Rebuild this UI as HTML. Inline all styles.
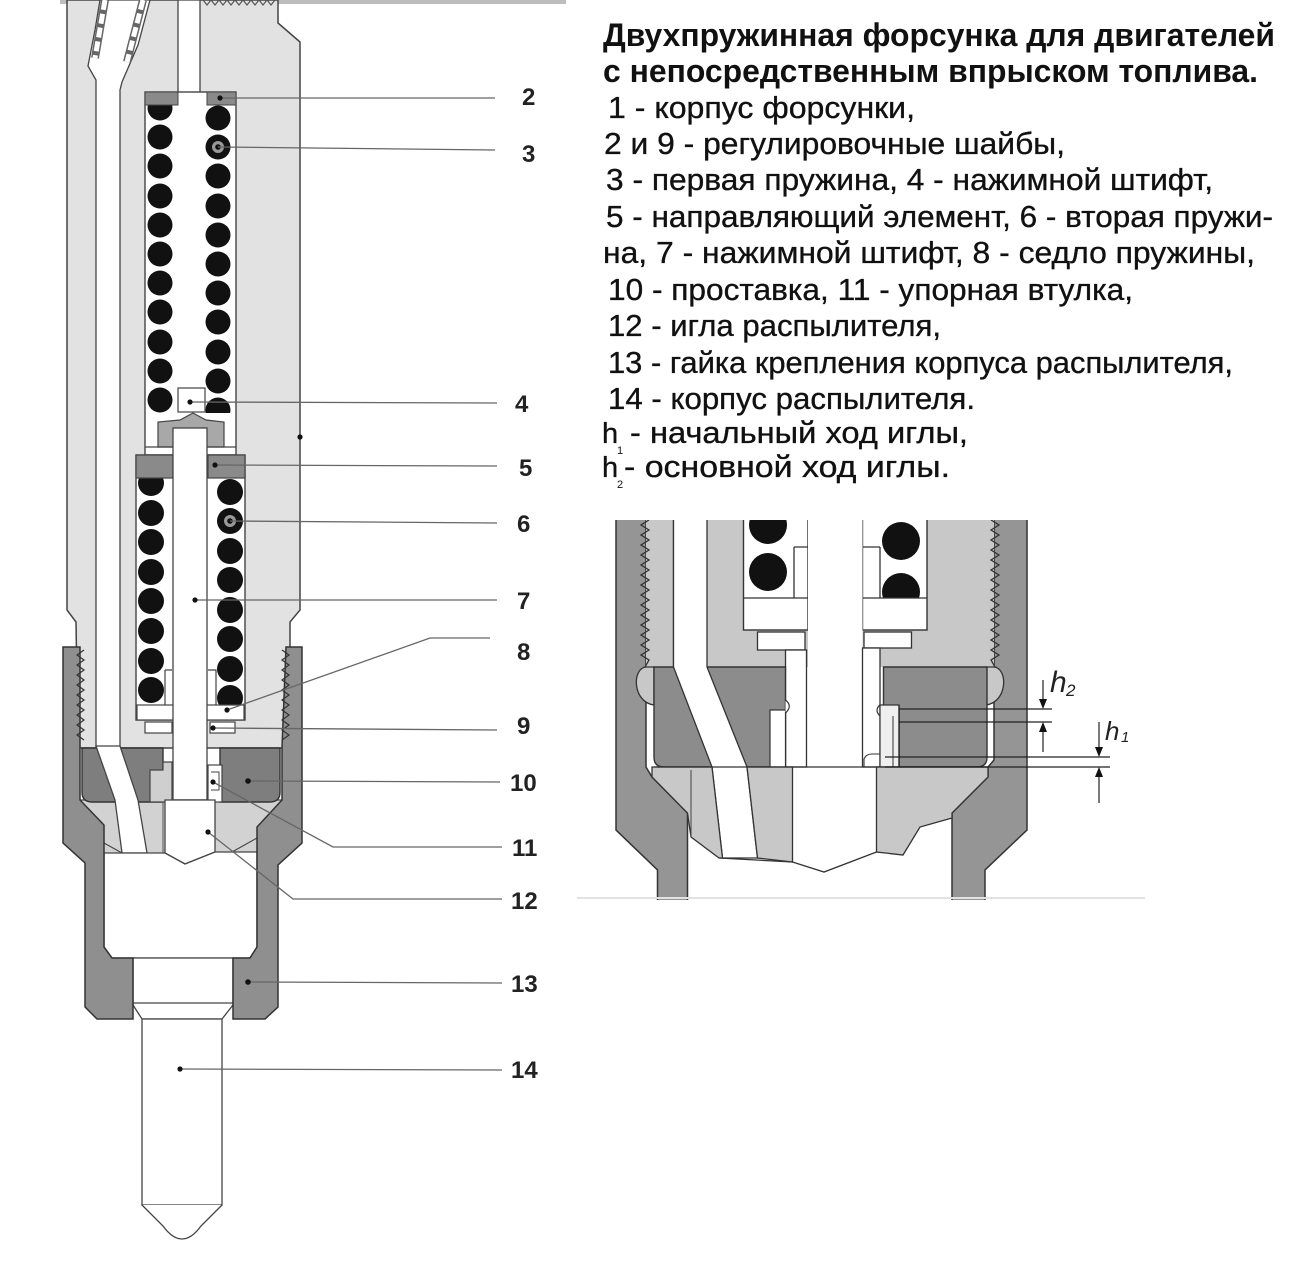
<!DOCTYPE html>
<html><head><meta charset="utf-8"><style>
html,body{margin:0;padding:0;background:#fff;}
svg{display:block;}
</style></head><body>
<svg width="1300" height="1270" viewBox="0 0 1300 1270" xmlns="http://www.w3.org/2000/svg" font-family="'Liberation Sans', Arial, sans-serif">
<rect width="1300" height="1270" fill="#fff"/>

<!-- ============ MAIN DRAWING ============ -->
<rect x="60" y="0" width="506" height="4" fill="#bdbdbd"/>
<polygon points="67,0 278,0 278,23 300,42 300,610 290,622 290,748 78,748 76,622 67,610" fill="#e2e2e2" stroke="#444" stroke-width="1.5"/>
<path d="M203,0 L207,5 L211,0 L215,5 L219,0 L223,5 L227,0 L231,5 L235,0 L239,5 L243,0 L247,5 L251,0 L255,5 L259,0 L263,5 L267,0 L271,5 L275,0" fill="none" stroke="#555" stroke-width="1.2"/>
<rect x="178" y="0" width="22" height="94" fill="#fff" stroke="#444" stroke-width="1.3"/>
<polygon points="100,0 150,0 138,45 122,82 120,90 120,748 96,748 96,80 88,66 95,30" fill="#fff" stroke="#444" stroke-width="1.3"/>
<line x1="105" y1="0" x2="95" y2="58" stroke="#666" stroke-width="8"/>
<line x1="105" y1="0" x2="95" y2="58" stroke="#fff" stroke-width="5" stroke-dasharray="10 4"/>
<line x1="143" y1="0" x2="127" y2="62" stroke="#666" stroke-width="8"/>
<line x1="143" y1="0" x2="127" y2="62" stroke="#fff" stroke-width="5" stroke-dasharray="10 4"/>

<rect x="145" y="92" width="91" height="363" fill="#fff" stroke="#444" stroke-width="1.4"/>
<g fill="#111">
<circle cx="160" cy="108" r="12.5"/><circle cx="160" cy="137" r="12.5"/><circle cx="160" cy="166" r="12.5"/><circle cx="160" cy="196" r="12.5"/><circle cx="160" cy="225" r="12.5"/><circle cx="160" cy="254" r="12.5"/><circle cx="160" cy="283" r="12.5"/><circle cx="160" cy="312" r="12.5"/><circle cx="160" cy="342" r="12.5"/><circle cx="160" cy="371" r="12.5"/><circle cx="160" cy="400" r="12.5"/>
<circle cx="218" cy="118" r="12.5"/><circle cx="218" cy="147" r="12.5"/><circle cx="218" cy="176" r="12.5"/><circle cx="218" cy="206" r="12.5"/><circle cx="218" cy="235" r="12.5"/><circle cx="218" cy="264" r="12.5"/><circle cx="218" cy="293" r="12.5"/><circle cx="218" cy="322" r="12.5"/><circle cx="218" cy="352" r="12.5"/><circle cx="218" cy="381" r="12.5"/><circle cx="218" cy="410" r="12.5"/>
</g>
<circle cx="218" cy="147" r="6" fill="#999"/><circle cx="218" cy="147" r="2.8" fill="#111"/>
<rect x="145" y="92" width="33" height="13" fill="#8a8a8a" stroke="#444" stroke-width="1"/>
<rect x="207" y="92" width="29" height="13" fill="#8a8a8a" stroke="#444" stroke-width="1"/>
<rect x="178" y="388" width="27" height="24" fill="#fff" stroke="#444" stroke-width="1.2"/>
<rect x="146" y="413" width="89" height="41" fill="#fff"/>
<polygon points="158,447 158,422 180,420 193,413 206,420 224,422 224,447" fill="#a8a8a8" stroke="#444" stroke-width="1.2"/>
<line x1="145" y1="447" x2="236" y2="447" stroke="#444" stroke-width="1.2"/>

<rect x="136" y="455" width="109" height="265" fill="#fff" stroke="#444" stroke-width="1.4"/>
<g fill="#111">
<circle cx="151" cy="483" r="13"/><circle cx="151" cy="513" r="13"/><circle cx="151" cy="542" r="13"/><circle cx="151" cy="572" r="13"/><circle cx="151" cy="601" r="13"/><circle cx="151" cy="631" r="13"/><circle cx="151" cy="661" r="13"/><circle cx="151" cy="690" r="13"/>
<circle cx="230" cy="492" r="13"/><circle cx="230" cy="521" r="13"/><circle cx="230" cy="551" r="13"/><circle cx="230" cy="580" r="13"/><circle cx="230" cy="610" r="13"/><circle cx="230" cy="639" r="13"/><circle cx="230" cy="669" r="13"/><circle cx="230" cy="698" r="13"/>
</g>
<circle cx="230" cy="521" r="6" fill="#999"/><circle cx="230" cy="521" r="2.8" fill="#111"/>
<rect x="137" y="705" width="107" height="15" fill="#fff" stroke="#444" stroke-width="1.2"/>
<path d="M165,670 L172,670 M165,670 L165,705 M208,670 L216,670 L216,705" fill="none" stroke="#444" stroke-width="1.2"/>
<rect x="145" y="722" width="27" height="11" fill="#fff" stroke="#444" stroke-width="1.2"/>
<rect x="210" y="722" width="25" height="11" fill="#fff" stroke="#444" stroke-width="1.2"/>
<rect x="136" y="455" width="37" height="23" fill="#8a8a8a" stroke="#444" stroke-width="1.2"/>
<rect x="208" y="455" width="37" height="23" fill="#8a8a8a" stroke="#444" stroke-width="1.2"/>
<rect x="173" y="428" width="34" height="372" fill="#fff" stroke="#444" stroke-width="1.3"/>

<rect x="80" y="800" width="202" height="55" fill="#d2d2d2" stroke="#444" stroke-width="1.2"/>
<path d="M82,748 L163,748 L163,802 L92,802 Q82,802 82,792 Z" fill="#7e7e7e" stroke="#333" stroke-width="1.4"/>
<path d="M220,748 L280,748 L280,792 Q280,802 270,802 L220,802 Z" fill="#7e7e7e" stroke="#333" stroke-width="1.4"/>
<polygon points="96,746 120,746 138,800 147,853 122,853 115,800" fill="#fff" stroke="#444" stroke-width="1.3"/>
<path d="M150,802 L150,770 L163,770 L163,762 L172,762 L172,802 Z" fill="#cfcfcf" stroke="#444" stroke-width="1.2"/>
<rect x="208" y="765" width="14" height="37" fill="#fff" stroke="#444" stroke-width="1.2"/>
<path d="M211,772 L219,772 L219,790 L211,790" fill="none" stroke="#444" stroke-width="1"/>
<polygon points="165,800 215,800 215,852 185,864 165,853" fill="#fff" stroke="#444" stroke-width="1.3"/>
<line x1="163" y1="802" x2="163" y2="853" stroke="#555" stroke-width="1"/>
<path d="M104,853 L165,853 L185,864 L215,852 L257,852 L257,947 L250,958 L112,958 L104,947 Z" fill="#fff" stroke="#444" stroke-width="1.3"/>
<path d="M133,958 L233,958 L233,1005 L222,1019 L142,1019 L133,1005 Z" fill="#fff" stroke="#444" stroke-width="1.3"/>
<line x1="133" y1="1003" x2="233" y2="1003" stroke="#444" stroke-width="1.2"/>
<rect x="142" y="1019" width="80" height="186" fill="#fff" stroke="#444" stroke-width="1.3"/>
<path d="M142,1205 L163,1226 Q182,1252 201,1226 L222,1205" fill="#fff" stroke="#444" stroke-width="1.3"/>
<path d="M104,843 L122,853 M232,852 L257,838" fill="none" stroke="#444" stroke-width="1.1"/>

<polygon points="63,647 80,647 80,800 104,825 104,947 112,958 133,958 133,1019 97,1019 85,1007 85,863 63,843" fill="#8f8f8f" stroke="#333" stroke-width="1.5"/>
<polygon points="286,647 302,647 302,843 278,865 278,1007 265,1019 233,1019 233,958 250,958 257,947 257,827 282,800 282,748" fill="#8f8f8f" stroke="#333" stroke-width="1.5"/>
<path d="M84,650 L77,655 L84,660 L77,665 L84,670 L77,675 L84,680 L77,685 L84,690 L77,695 L84,700 L77,705 L84,710 L77,715 L84,720 L77,725 L84,730 L77,735 L84,740" fill="none" stroke="#333" stroke-width="1.2"/>
<path d="M282,650 L289,655 L282,660 L289,665 L282,670 L289,675 L282,680 L289,685 L282,690 L289,695 L282,700 L289,705 L282,710 L289,715 L282,720 L289,725 L282,730 L289,735 L282,740" fill="none" stroke="#333" stroke-width="1.2"/>

<g stroke="#666" stroke-width="1.3" fill="none">
<line x1="220" y1="98" x2="495" y2="98"/>
<line x1="218" y1="147" x2="495" y2="150"/>
<line x1="190" y1="402" x2="497" y2="403"/>
<line x1="215" y1="465" x2="497" y2="466"/>
<line x1="230" y1="521" x2="497" y2="523"/>
<line x1="195" y1="600" x2="497" y2="600"/>
<polyline points="227,710 430,638 490,638"/>
<line x1="213" y1="728" x2="497" y2="730"/>
<line x1="248" y1="781" x2="500" y2="782"/>
<polyline points="213,782 333,847 502,847"/>
<polyline points="208,832 293,899 502,899"/>
<line x1="248" y1="982" x2="502" y2="983"/>
<line x1="180" y1="1069" x2="502" y2="1070"/>
</g>
<g fill="#111">
<circle cx="220" cy="98" r="2.6"/><circle cx="190" cy="402" r="2.6"/><circle cx="215" cy="465" r="2.6"/>
<circle cx="195" cy="600" r="2.6"/><circle cx="227" cy="710" r="2.6"/><circle cx="213" cy="728" r="2.6"/>
<circle cx="248" cy="781" r="2.8"/><circle cx="213" cy="782" r="2.6"/><circle cx="208" cy="832" r="2.6"/>
<circle cx="248" cy="982" r="2.8"/><circle cx="180" cy="1069" r="2.6"/><circle cx="300" cy="437" r="2.6"/>
</g>
<g font-size="24" font-weight="bold" fill="#222">
<text x="522" y="105">2</text>
<text x="522" y="162">3</text>
<text x="515" y="412">4</text>
<text x="519" y="476">5</text>
<text x="517" y="532">6</text>
<text x="517" y="609">7</text>
<text x="517" y="660">8</text>
<text x="517" y="734">9</text>
<text x="510" y="791">10</text>
<text x="512" y="856">11</text>
<text x="511" y="909">12</text>
<text x="511" y="992">13</text>
<text x="511" y="1078">14</text>
</g>

<!-- ============ TEXT BLOCK ============ -->
<g fill="#111">
<text x="603" y="46" font-size="32" font-weight="bold" textLength="672" lengthAdjust="spacingAndGlyphs">Двухпружинная форсунка для двигателей</text>
<text x="603" y="82" font-size="32" font-weight="bold" textLength="655" lengthAdjust="spacingAndGlyphs">с непосредственным впрыском топлива.</text>
<g font-size="31" stroke="#111" stroke-width="0.35">
<text x="608" y="118" textLength="307" lengthAdjust="spacingAndGlyphs">1 - корпус форсунки,</text>
<text x="604" y="154" textLength="461" lengthAdjust="spacingAndGlyphs">2 и 9 - регулировочные шайбы,</text>
<text x="606" y="190" textLength="607" lengthAdjust="spacingAndGlyphs">3 - первая пружина, 4 - нажимной штифт,</text>
<text x="606" y="227" textLength="667" lengthAdjust="spacingAndGlyphs">5 - направляющий элемент, 6 - вторая пружи-</text>
<text x="603" y="263" textLength="652" lengthAdjust="spacingAndGlyphs">на, 7 - нажимной штифт, 8 - седло пружины,</text>
<text x="608" y="300" textLength="525" lengthAdjust="spacingAndGlyphs">10 - проставка, 11 - упорная втулка,</text>
<text x="608" y="336" textLength="333" lengthAdjust="spacingAndGlyphs">12 - игла распылителя,</text>
<text x="608" y="373" textLength="625" lengthAdjust="spacingAndGlyphs">13 - гайка крепления корпуса распылителя,</text>
<text x="608" y="409" textLength="367" lengthAdjust="spacingAndGlyphs">14 - корпус распылителя.</text>
<text x="602" y="443" font-size="29">h</text>
<text x="630" y="443" textLength="338" lengthAdjust="spacingAndGlyphs">- начальный ход иглы,</text>
<text x="602" y="477" font-size="29">h</text>
<text x="624" y="477" textLength="326" lengthAdjust="spacingAndGlyphs">- основной ход иглы.</text>
</g>
<text x="617" y="454" font-size="11">1</text>
<text x="617" y="488" font-size="11">2</text>
</g>

<!-- ============ DETAIL ============ -->
<defs><clipPath id="dc"><rect x="610" y="520" width="425" height="380"/></clipPath></defs>
<g clip-path="url(#dc)">
<rect x="645" y="515" width="350" height="152" fill="#c8c8c8"/>
<polygon points="612,515 646,515 646,767 652,777 687.5,813 687.5,905 657.5,905 657.5,870 616,830 616,515" fill="#959595" stroke="#333" stroke-width="1.5"/>
<polygon points="994,515 1027,515 1027,830 985,870 985,905 952,905 952,813 988,777 988,767 994,760" fill="#959595" stroke="#333" stroke-width="1.5"/>
<rect x="646" y="515" width="348" height="152" fill="#c8c8c8"/>
<line x1="673.5" y1="515" x2="673.5" y2="667" stroke="#333" stroke-width="1.3"/>
<path d="M649,520 L641,525 L649,530 L641,535 L649,540 L641,545 L649,550 L641,555 L649,560 L641,565 L649,570 L641,575 L649,580 L641,585 L649,590 L641,595 L649,600 L641,605 L649,610 L641,615 L649,620 L641,625 L649,630 L641,635 L649,640 L641,645 L649,650 L641,655 L649,660 L645,667" fill="none" stroke="#333" stroke-width="1.3"/>
<path d="M991,520 L999,525 L991,530 L999,535 L991,540 L999,545 L991,550 L999,555 L991,560 L999,565 L991,570 L999,575 L991,580 L999,585 L991,590 L999,595 L991,600 L999,605 L991,610 L999,615 L991,620 L999,625 L991,630 L999,635 L991,640 L999,645 L991,650 L999,655 L991,660 L995,667" fill="none" stroke="#333" stroke-width="1.3"/>
<path d="M646,667 C632,668 632,702 654,705 L654,667 Z" fill="#c8c8c8" stroke="#333" stroke-width="1.3"/>
<path d="M994,667 C1008,668 1008,702 986,705 L986,667 Z" fill="#c8c8c8" stroke="#333" stroke-width="1.3"/>
<rect x="743.5" y="512" width="64.5" height="118" fill="#fff" stroke="#333" stroke-width="1.4"/>
<circle cx="768" cy="525" r="19" fill="#111"/>
<circle cx="768" cy="572" r="19" fill="#111"/>
<path d="M794,547 L808,547 M794,547 L794,598 M743.5,598 L808,598" fill="none" stroke="#333" stroke-width="1.3"/>
<rect x="862.5" y="512" width="64.5" height="118" fill="#fff" stroke="#333" stroke-width="1.4"/>
<circle cx="901" cy="541" r="19" fill="#111"/>
<circle cx="901" cy="592" r="19" fill="#111"/>
<rect x="863.5" y="598" width="62.5" height="31" fill="#fff"/>
<path d="M880,547 L862.5,547 M880,547 L880,598 M862.5,598 L927,598" fill="none" stroke="#333" stroke-width="1.3"/>
<rect x="757.5" y="632" width="47.5" height="18" fill="#fff" stroke="#333" stroke-width="1.3"/>
<rect x="864" y="632" width="47.5" height="16" fill="#fff" stroke="#333" stroke-width="1.3"/>
<rect x="808" y="512" width="54.5" height="256" fill="#fff"/>
<rect x="785.5" y="650" width="21" height="117" fill="#fff" stroke="#333" stroke-width="1.3"/>
<rect x="862.5" y="648" width="17.5" height="119" fill="#fff" stroke="#333" stroke-width="1.3"/>
<path d="M654,667 L785.5,667 L785.5,767 L664,767 Q654,767 654,757 Z" fill="#8c8c8c" stroke="#333" stroke-width="1.4"/>
<path d="M883.5,667 L987,667 L987,757 Q987,767 977,767 L899,767 L899,710 L883.5,710 Z" fill="#8c8c8c" stroke="#333" stroke-width="1.4"/>
<path d="M880,705 L899,705 L899,767 L880,767 Z" fill="#efefef" stroke="#333" stroke-width="1.2"/>
<path d="M880,705 Q874,710 880,716" fill="none" stroke="#333" stroke-width="1.2"/>
<line x1="893" y1="716" x2="893" y2="767" stroke="#333" stroke-width="1"/>
<rect x="770" y="710" width="15.5" height="57" fill="#fff" stroke="#333" stroke-width="1.2"/>
<path d="M785.5,700 Q793,706 785.5,713" fill="#fff" stroke="#333" stroke-width="1.2"/>
<path d="M864,767 L864,759 Q866,754 872,754 L880,754" fill="none" stroke="#333" stroke-width="1.1"/>
<polygon points="673.5,512 707,512 707,667 747,767 757.5,858 722.5,858 712,767 673.5,667" fill="#fff" stroke="#333" stroke-width="1.3"/>
<polygon points="652,767 712,767 722.5,858 719,858 691,837 687.5,813 652,777" fill="#c8c8c8" stroke="#333" stroke-width="1.3"/>
<polygon points="747,767 792.5,767 792.5,862 757.5,858" fill="#c8c8c8" stroke="#333" stroke-width="1.3"/>
<polygon points="876.5,767 988,767 988,777 952,813 952,818 920,827 903,855 876.5,852" fill="#c8c8c8" stroke="#333" stroke-width="1.3"/>
<line x1="691" y1="770" x2="691" y2="837" stroke="#444" stroke-width="1"/>
<path d="M719,858 L792.5,862 L824,872 L876.5,852" fill="none" stroke="#333" stroke-width="1.3"/>
<line x1="654" y1="767" x2="988" y2="767" stroke="#333" stroke-width="1.3"/>
</g>
<g stroke="#222" stroke-width="1.2" fill="none">
<line x1="899" y1="709" x2="1052" y2="709"/>
<line x1="899" y1="722" x2="1052" y2="722"/>
<line x1="885" y1="757" x2="1110" y2="757"/>
<line x1="885" y1="767" x2="1110" y2="767"/>
<line x1="899" y1="705" x2="899" y2="767"/>
<line x1="1043" y1="680" x2="1043" y2="703"/>
<line x1="1043" y1="728" x2="1043" y2="752"/>
<line x1="1099" y1="722" x2="1099" y2="751"/>
<line x1="1099" y1="773" x2="1099" y2="803"/>
</g>
<g fill="#111">
<polygon points="1039,699 1047,699 1043,709"/>
<polygon points="1039,732 1047,732 1043,722"/>
<polygon points="1095,747 1103,747 1099,757"/>
<polygon points="1095,777 1103,777 1099,767"/>
</g>
<g fill="#222" font-style="italic">
<text x="1050" y="692" font-size="30">h</text>
<text x="1066" y="696" font-size="17">2</text>
<text x="1105" y="740" font-size="26">h</text>
<text x="1121" y="742" font-size="15">1</text>
</g>
<line x1="577" y1="898" x2="1145" y2="898" stroke="#e2e2e2" stroke-width="2"/>
</svg>
</body></html>
